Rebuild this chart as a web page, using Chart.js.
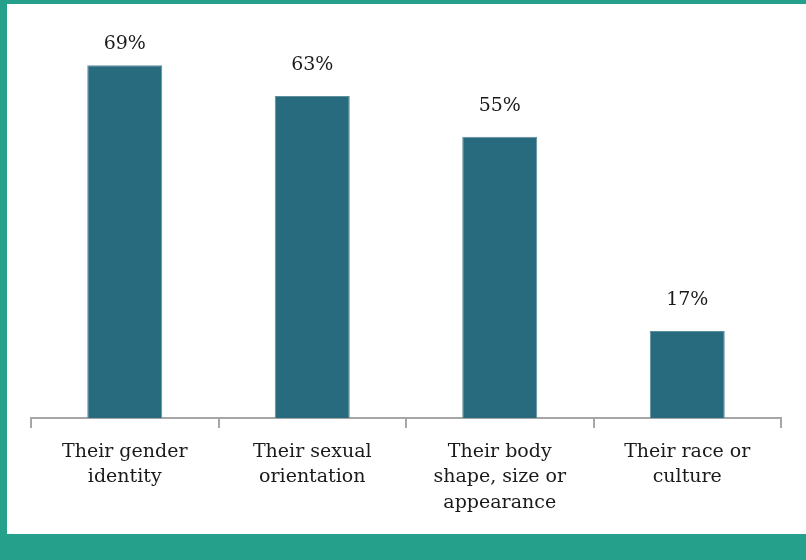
<!DOCTYPE html>
<html>
<head>
<meta charset="utf-8">
<script src="https://cdn.jsdelivr.net/npm/chart.js@4"></script>
<style>
html,body{margin:0;padding:0;background:#fff;}
#wrap{position:relative;width:806px;height:560px;}
</style>
</head>
<body>
<div id="wrap"><canvas id="c" width="806" height="560"></canvas></div>
<script>
const categories = [
  ["Their gender", "identity"],
  ["Their sexual", "orientation"],
  ["Their body", "shape, size or", "appearance"],
  ["Their race or", "culture"]
];
const values = [69, 63, 55, 17];
const valueLabels = ["69%", "63%", "55%", "17%"];

const TEAL = '#25a08b';
const BAR = '#286a7e';
const FONT = "'DejaVu Serif', 'Liberation Serif', serif";

const framePlugin = {
  id: 'frame',
  beforeDraw(chart) {
    const ctx = chart.ctx;
    ctx.save();
    ctx.fillStyle = '#ffffff';
    ctx.fillRect(0, 0, chart.width, chart.height);
    ctx.fillStyle = TEAL;
    ctx.fillRect(0, 0, chart.width, 4);
    ctx.fillRect(0, 0, 7, chart.height);
    ctx.fillRect(0, 534, chart.width, chart.height - 534);
    ctx.restore();
  }
};

const valueLabelPlugin = {
  id: 'valueLabels',
  afterDatasetsDraw(chart) {
    const ctx = chart.ctx;
    const meta = chart.getDatasetMeta(0);
    ctx.save();
    ctx.font = "19px " + FONT;
    ctx.fillStyle = '#1a1a1a';
    ctx.textAlign = 'center';
    ctx.textBaseline = 'middle';
    meta.data.forEach((bar, i) => {
      const y = Math.max(bar.y - 31, chart.chartArea.top + 36);
      ctx.fillText(valueLabels[i], bar.x, y);
    });
    ctx.restore();
  }
};

new Chart(document.getElementById('c'), {
  type: 'bar',
  data: {
    labels: categories,
    datasets: [{
      data: values,
      backgroundColor: BAR,
      borderColor: '#5f8e9d',
      borderWidth: 1,
      barPercentage: 0.8,
      categoryPercentage: 0.5
    }]
  },
  options: {
    responsive: false,
    animation: false,
    devicePixelRatio: 1,
    layout: { padding: { left: 31, right: 25, top: 8, bottom: 0 } },
    plugins: { legend: { display: false }, tooltip: { enabled: false } },
    scales: {
      y: { display: false, min: 0, max: 80.2 },
      x: {
        afterFit(scale) { scale.height = 142; },
        border: { display: true, color: '#a6a6a6', width: 2 },
        grid: {
          display: true,
          drawOnChartArea: false,
          drawTicks: true,
          tickLength: 10,
          color: '#a6a6a6',
          lineWidth: 2,
          offset: true
        },
        ticks: {
          color: '#1a1a1a',
          font: { family: FONT, size: 19, lineHeight: 1.34 },
          padding: 11,
          maxRotation: 0,
          autoSkip: false
        }
      }
    }
  },
  plugins: [framePlugin, valueLabelPlugin]
});
</script>
</body>
</html>
